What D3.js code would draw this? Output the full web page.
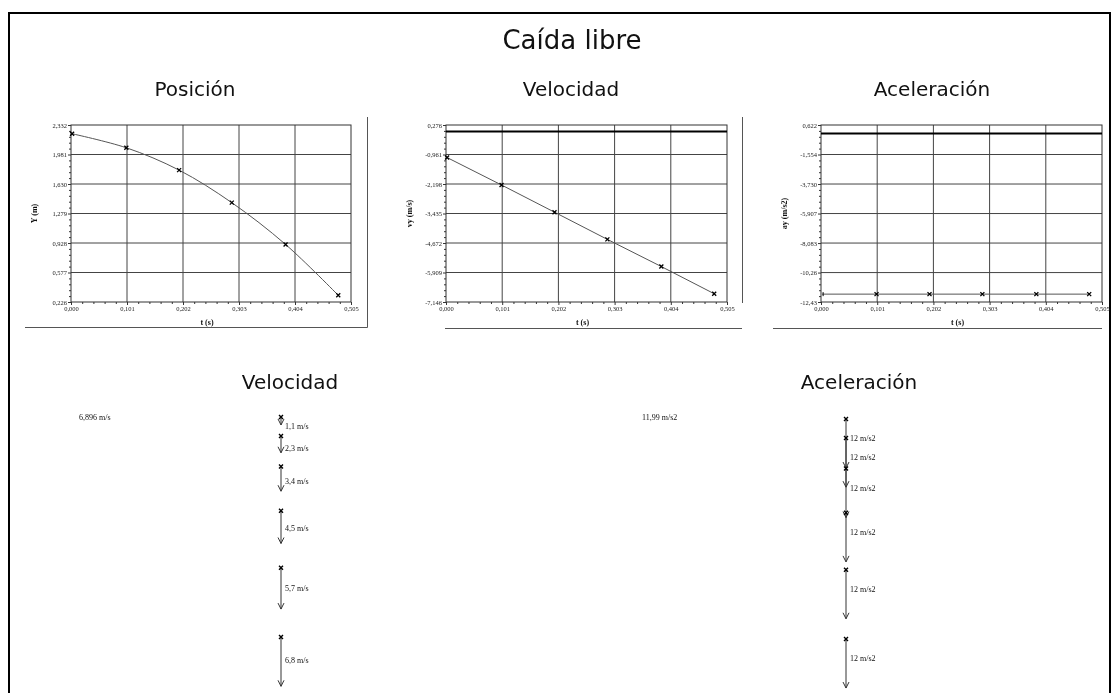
<!DOCTYPE html>
<html><head><meta charset="utf-8">
<script src="https://cdn.jsdelivr.net/npm/d3@7"></script>
<style>body{margin:0;background:#fff;} svg{display:block; will-change:transform;}</style>
</head><body>
<svg id="c" width="1120" height="693"></svg>
<script>
// ---------- data ----------
const times = [0.002, 0.0998, 0.195, 0.290, 0.387, 0.482];
const posY = [2.228, 2.061, 1.795, 1.408, 0.911, 0.306];
const velY = [-1.09, -2.24, -3.38, -4.52, -5.66, -6.80];
const accY = [-11.85, -11.85, -11.85, -11.85, -11.85, -11.85];
const xTickLabels = ["0,000", "0,101", "0,202", "0,303", "0,404", "0,505"];
const posTickLabels = ["0,226", "0,577", "0,928", "1,279", "1,630", "1,981", "2,332"];
const velTickLabels = ["-7,146", "-5,909", "-4,672", "-3,435", "-2,198", "-0,961", "0,276"];
const accTickLabels = ["-12,43", "-10,26", "-8,083", "-5,907", "-3,730", "-1,554", "0,622"];
const velMagnitudes = [1.1, 2.3, 3.4, 4.5, 5.7, 6.8];
const velArrowLabels = ["1,1 m/s", "2,3 m/s", "3,4 m/s", "4,5 m/s", "5,7 m/s", "6,8 m/s"];
const accMagnitudes = [12, 12, 12, 12, 12, 12];
const accArrowLabels = ["12 m/s2", "12 m/s2", "12 m/s2", "12 m/s2", "12 m/s2", "12 m/s2"];
const velLegendText = "6,896 m/s";
const velLegendValue = 6.896;
const accLegendText = "11,99 m/s2";
const accLegendValue = 11.99;
const mainTitle = "Caída libre";
const chartTitles = ["Posición", "Velocidad", "Aceleración"];
const yAxisTitles = ["Y (m)", "vy (m/s)", "ay (m/s2)"];
const xAxisTitle = "t (s)";
const diagramTitles = ["Velocidad", "Aceleración"];

// ---------- helpers ----------
const num = s => +s.replace(",", ".");
const svg = d3.select("#c");
const SANS = "DejaVu Sans, Verdana, sans-serif";
const SERIF = "Liberation Serif, Times New Roman, serif";

// outer border
svg.append("path").attr("d", "M9,720V13H1110V720").attr("fill", "none")
  .attr("stroke", "#000").attr("stroke-width", 2);

svg.append("text").attr("x", 572).attr("y", 49).attr("text-anchor", "middle")
  .attr("font-family", SANS).attr("font-size", 26).attr("fill", "#111").text(mainTitle);

function xMark(g, x, y, r, w) {
  g.append("path").attr("d", `M${x - r},${y - r}L${x + r},${y + r}M${x - r},${y + r}L${x + r},${y - r}`)
    .attr("stroke", "#000").attr("stroke-width", w).attr("fill", "none");
}

function chart(cfg) {
  const {left, right, top, bottom, tickLabels, yData, title, titleX, yTitle, curve, zeroLine, firstTick} = cfg;
  const g = svg.append("g");
  const xTicks = xTickLabels.map(num);
  const yTicks = tickLabels.map(num);
  const x = d3.scaleLinear().domain([xTicks[0], xTicks[xTicks.length - 1]]).range([left, right]);
  const y = d3.scaleLinear().domain([yTicks[0], yTicks[yTicks.length - 1]]).range([bottom, top]);

  g.append("text").attr("x", titleX).attr("y", 96).attr("text-anchor", "middle")
    .attr("font-family", SANS).attr("font-size", 20).attr("fill", "#111").text(title);

  // grid
  g.append("g").selectAll("line").data(xTicks.slice(1, -1)).join("line")
    .attr("x1", d => x(d)).attr("x2", d => x(d)).attr("y1", top).attr("y2", bottom)
    .attr("stroke", "#444").attr("stroke-width", 1);
  g.append("g").selectAll("line").data(yTicks.slice(1, -1)).join("line")
    .attr("y1", d => y(d)).attr("y2", d => y(d)).attr("x1", left).attr("x2", right)
    .attr("stroke", "#444").attr("stroke-width", 1);

  // minor ticks
  const xMinor = [];
  for (let i = 0; i < xTicks.length - 1; i++) for (let k = 1; k < 5; k++) xMinor.push(xTicks[i] + (xTicks[i + 1] - xTicks[i]) * k / 5);
  const yMinor = [];
  for (let i = 0; i < yTicks.length - 1; i++) for (let k = 1; k < 5; k++) yMinor.push(yTicks[i] + (yTicks[i + 1] - yTicks[i]) * k / 5);

  const styleAxis = a => {
    a.select(".domain").remove();
    a.selectAll("line").attr("stroke", "#333");
    a.selectAll("text").attr("font-family", SERIF).attr("font-size", 6.5).attr("fill", "#222");
  };
  g.append("g").attr("transform", `translate(0,${bottom})`)
    .call(d3.axisBottom(x).tickValues(xMinor).tickSize(2).tickFormat("")).call(styleAxis);
  g.append("g").attr("transform", `translate(0,${bottom})`)
    .call(d3.axisBottom(x).tickValues(xTicks).tickSize(3).tickPadding(1).tickFormat((d, i) => xTickLabels[i])).call(styleAxis);
  g.append("g").attr("transform", `translate(${left},0)`)
    .call(d3.axisLeft(y).tickValues(yMinor).tickSize(2).tickFormat("")).call(styleAxis);
  g.append("g").attr("transform", `translate(${left},0)`)
    .call(d3.axisLeft(y).tickValues(yTicks).tickSize(3).tickPadding(1).tickFormat((d, i) => tickLabels[i])).call(styleAxis);

  // frame
  g.append("rect").attr("x", left).attr("y", top).attr("width", right - left).attr("height", bottom - top)
    .attr("fill", "none").attr("stroke", "#333").attr("stroke-width", 1);

  if (zeroLine) {
    g.append("line").attr("x1", left).attr("x2", right).attr("y1", y(0)).attr("y2", y(0))
      .attr("stroke", "#000").attr("stroke-width", 2);
  }

  // data line
  const pts = times.map((t, i) => [x(t), y(yData[i])]);
  g.append("path").attr("d", d3.line().curve(curve)(pts)).attr("fill", "none")
    .attr("stroke", "#555").attr("stroke-width", 1);
  pts.forEach((p, i) => {
    if (firstTick && i === 0) {
      g.append("line").attr("x1", p[0] + 1).attr("x2", p[0] + 1).attr("y1", p[1] - 2).attr("y2", p[1] + 2)
        .attr("stroke", "#000").attr("stroke-width", 1);
    } else xMark(g, p[0], p[1], 2, 1.3);
  });

  // axis titles
  g.append("text").attr("transform", `translate(${left - 34},${(top + bottom) / 2}) rotate(-90)`)
    .attr("text-anchor", "middle").attr("font-family", SERIF).attr("font-weight", "bold")
    .attr("font-size", 8).attr("fill", "#111").text(yTitle);
  g.append("text").attr("x", (left + right) / 2 - 4).attr("y", 325).attr("text-anchor", "middle")
    .attr("font-family", SERIF).attr("font-weight", "bold").attr("font-size", 8).attr("fill", "#111").text(xAxisTitle);
}

chart({left: 71, right: 351, top: 125, bottom: 302, tickLabels: posTickLabels, yData: posY,
  title: chartTitles[0], titleX: 195, yTitle: yAxisTitles[0], curve: d3.curveCatmullRom, zeroLine: false});
chart({left: 446, right: 727, top: 125, bottom: 302, tickLabels: velTickLabels, yData: velY,
  title: chartTitles[1], titleX: 571, yTitle: yAxisTitles[1], curve: d3.curveLinear, zeroLine: true});
chart({left: 821, right: 1102, top: 125, bottom: 302, tickLabels: accTickLabels, yData: accY,
  title: chartTitles[2], titleX: 932, yTitle: yAxisTitles[2], curve: d3.curveLinear, zeroLine: true, firstTick: true});

// partial panel frames
const frame = svg.append("g").attr("stroke", "#555").attr("stroke-width", 1).attr("fill", "none");
frame.append("path").attr("d", "M25,327.5H367.5V117");
frame.append("path").attr("d", "M445,328.5H742");
frame.append("path").attr("d", "M742.5,117V303M773,328.5H1102");

// ---------- vector diagrams ----------
function diagram(cfg) {
  const {cx, titleX, title, y0, legendX, legendText, legendValue, mags, labels, refLen, labelK} = cfg;
  const g = svg.append("g");
  g.append("text").attr("x", titleX).attr("y", 389).attr("text-anchor", "middle")
    .attr("font-family", SANS).attr("font-size", 20).attr("fill", "#111").text(title);
  g.append("text").attr("x", legendX).attr("y", 420).attr("font-family", SERIF)
    .attr("font-size", 8).attr("fill", "#111").text(legendText);
  const py = d3.scaleLinear().domain([d3.max(posY), d3.min(posY)]).range([y0, y0 + 220]);
  const len = d3.scaleLinear().domain([0, legendValue]).range([0, refLen]);
  posY.forEach((p, i) => {
    const ys = py(p), L = len(mags[i]), ye = ys + L;
    g.append("line").attr("x1", cx).attr("x2", cx).attr("y1", ys).attr("y2", ye)
      .attr("stroke", "#333").attr("stroke-width", 1);
    g.append("path").attr("d", `M${cx - 3},${ye - 6}L${cx},${ye}L${cx + 3},${ye - 6}`)
      .attr("fill", "none").attr("stroke", "#333").attr("stroke-width", 1);
    xMark(g, cx, ys, 2, 1.4);
    g.append("text").attr("x", cx + 4).attr("y", ys + 6 + labelK * L + 3)
      .attr("font-family", SERIF).attr("font-size", 8).attr("fill", "#111").text(labels[i]);
  });
}
diagram({cx: 281, titleX: 290, title: diagramTitles[0], y0: 417, legendX: 79, legendText: velLegendText,
  legendValue: velLegendValue, mags: velMagnitudes, labels: velArrowLabels, refLen: 50, labelK: 0.35});
diagram({cx: 846, titleX: 859, title: diagramTitles[1], y0: 419, legendX: 642, legendText: accLegendText,
  legendValue: accLegendValue, mags: accMagnitudes, labels: accArrowLabels, refLen: 49, labelK: 0.27});
</script>
</body></html>
